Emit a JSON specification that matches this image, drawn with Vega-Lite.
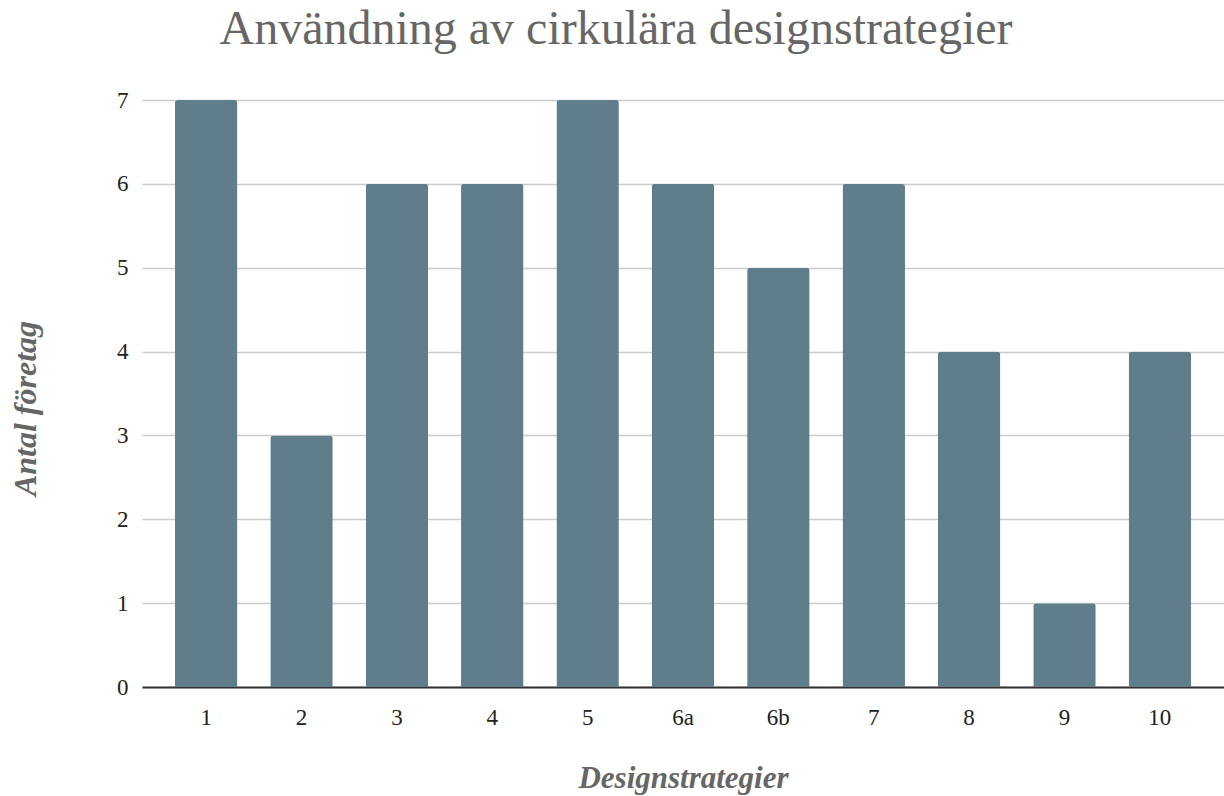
{
  "$schema": "https://vega.github.io/schema/vega-lite/v6.json",
  "autosize": "none",
  "width": 1082,
  "height": 587,
  "padding": {"left": 142, "top": 100, "right": 0, "bottom": 109},
  "background": "white",
  "title": {
    "text": "Användning av cirkulära designstrategier",
    "font": "Liberation Serif",
    "fontSize": 48,
    "fontWeight": "normal",
    "color": "#666666",
    "anchor": "middle",
    "dx": -67,
    "offset": 35
  },
  "data": {
    "values": [
      {"strategi": "1", "antal": 7},
      {"strategi": "2", "antal": 3},
      {"strategi": "3", "antal": 6},
      {"strategi": "4", "antal": 6},
      {"strategi": "5", "antal": 7},
      {"strategi": "6a", "antal": 6},
      {"strategi": "6b", "antal": 5},
      {"strategi": "7", "antal": 6},
      {"strategi": "8", "antal": 4},
      {"strategi": "9", "antal": 1},
      {"strategi": "10", "antal": 4}
    ]
  },
  "mark": {"type": "bar", "color": "#607d8b", "cornerRadiusTopLeft": 3, "cornerRadiusTopRight": 3},
  "encoding": {
    "x": {
      "field": "strategi",
      "type": "nominal",
      "sort": null,
      "scale": {"paddingInner": 0.345, "paddingOuter": 0.345},
      "axis": {
        "title": "Designstrategier",
        "titleFont": "Liberation Serif",
        "titleFontSize": 31,
        "titleFontStyle": "italic",
        "titleFontWeight": "bold",
        "titleColor": "#666666",
        "titlePadding": 34,
        "labelAngle": 0,
        "labelFont": "Liberation Serif",
        "labelFontSize": 23,
        "labelColor": "#222222",
        "labelPadding": 19,
        "ticks": false,
        "domainColor": "#333333",
        "domainWidth": 2,
        "grid": false
      }
    },
    "y": {
      "field": "antal",
      "type": "quantitative",
      "scale": {"domain": [0, 7]},
      "axis": {
        "title": "Antal företag",
        "titleFont": "Liberation Serif",
        "titleFontSize": 32,
        "titleFontStyle": "italic",
        "titleFontWeight": "bold",
        "titleColor": "#666666",
        "titlePadding": 74,
        "titleY": 308,
        "values": [0, 1, 2, 3, 4, 5, 6, 7],
        "labelFont": "Liberation Serif",
        "labelFontSize": 23,
        "labelColor": "#222222",
        "labelPadding": 14,
        "ticks": false,
        "domain": false,
        "grid": true,
        "gridColor": "#cccccc",
        "gridWidth": 1.5
      }
    }
  },
  "config": {"view": {"stroke": null}}
}
